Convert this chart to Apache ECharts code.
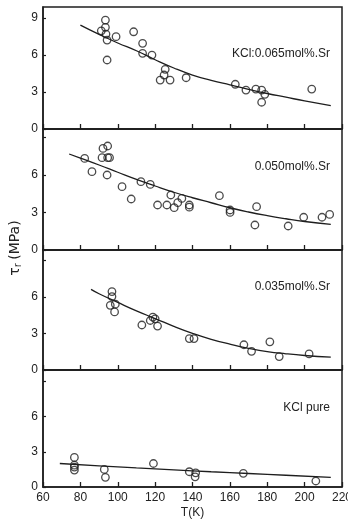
<!DOCTYPE html>
<html>
<head>
<meta charset="utf-8">
<style>html,body{margin:0;padding:0;background:#fff;}#c{width:348px;height:521px;}</style>
<script src="https://cdn.jsdelivr.net/npm/echarts@6/dist/echarts.min.js"></script>
</head>
<body>
<div id="c"></div>
<script>
// ---- data ----
var xTicks = [60, 80, 100, 120, 140, 160, 180, 200, 220];
var yTicks = [0, 3, 6, 9];
var panelLabels = ['KCl:0.065mol%.Sr', '0.050mol%.Sr', '0.035mol%.Sr', 'KCl pure'];

var pts1 = [[93.4,8.84],[93.4,8.25],[91.2,7.97],[93.7,7.70],[94.3,7.22],[99.1,7.49],[94.3,5.60],
  [108.5,7.89],[113.3,6.95],[113.3,6.14],[118.3,6.00],[125.4,4.84],[124.8,4.38],[122.7,3.97],
  [128.0,3.97],[136.6,4.16],[162.9,3.63],[168.6,3.16],[173.9,3.24],[177.0,3.16],[178.7,2.81],
  [177.0,2.17],[203.8,3.24]];
var curveT1 = [80, 90, 100, 110, 120, 130, 140, 150, 160, 170, 180, 190, 200, 214];
var curveV1 = [8.43, 7.68, 6.98, 6.35, 5.62, 4.95, 4.38, 3.95, 3.58, 3.22, 2.88, 2.58, 2.28, 1.89];

var pts2 = [[82.3,7.33],[86.2,6.27],[91.6,7.39],[92.1,8.13],[94.6,8.32],[94.6,7.39],[95.6,7.39],
  [94.3,6.00],[102.3,5.07],[107.2,4.08],[112.4,5.47],[117.4,5.25],[121.3,3.60],[126.3,3.60],
  [128.4,4.40],[130.2,3.39],[132.1,3.79],[134.3,4.13],[138.3,3.60],[138.3,3.43],[154.4,4.35],
  [160.1,3.20],[160.1,3.01],[174.3,3.47],[173.4,2.00],[191.2,1.92],[199.5,2.62],[209.3,2.62],
  [213.4,2.85]];
var curveT2 = [74, 80, 90, 100, 110, 120, 130, 140, 150, 160, 170, 180, 190, 200, 214];
var curveV2 = [7.68, 7.35, 6.80, 6.22, 5.65, 5.12, 4.62, 4.18, 3.78, 3.38, 3.04, 2.75, 2.50, 2.28, 2.05];

var pts3 = [[96.9,6.43],[96.9,6.02],[96.0,5.30],[98.7,5.40],[98.3,4.76],[112.9,3.69],[117.4,4.06],
  [118.8,4.33],[120.0,4.20],[121.3,3.60],[138.3,2.58],[140.8,2.58],[167.5,2.07],[171.6,1.53],
  [181.4,2.31],[186.4,1.10],[202.4,1.32]];
var curveT3 = [85.7, 90, 100, 110, 120, 130, 140, 150, 160, 170, 180, 190, 200, 214];
var curveV3 = [6.61, 6.25, 5.54, 4.85, 4.22, 3.58, 3.01, 2.52, 2.12, 1.78, 1.51, 1.33, 1.19, 1.05];

var pts4 = [[76.8,2.52],[76.8,1.86],[76.8,1.70],[76.8,1.44],[92.8,1.50],[93.4,0.82],[119.1,2.00],
  [138.3,1.30],[141.7,1.21],[141.4,0.87],[167.2,1.16],[206.0,0.51]];
var curveT4 = [69, 90, 110, 130, 150, 170, 190, 214];
var curveV4 = [2.00, 1.80, 1.62, 1.46, 1.30, 1.15, 1.00, 0.82];

// ---- layout ----
var grids = [
  {top: 7, height: 122, ymax: 9.9},
  {top: 129, height: 121, ymax: 9.68},
  {top: 250, height: 120, ymax: 9.84},
  {top: 370, height: 117, ymax: 9.96}
];
var labelY = [55, 168, 288, 409];
var allPts = [pts1, pts2, pts3, pts4];
var curves = [[curveT1, curveV1], [curveT2, curveV2], [curveT3, curveV3], [curveT4, curveV4]];

var ink = '#1e1e1e';
var option = {
  animation: false,
  backgroundColor: '#fff',
  grid: [], xAxis: [], yAxis: [], series: [], graphic: []
};

grids.forEach(function (g, i) {
  option.grid.push({left: 43, right: 6, top: g.top, height: g.height, outerBoundsMode: 'none',
    containLabel: false,
    show: true, borderColor: ink, borderWidth: 1.5, backgroundColor: 'transparent'});
  var last = i === 3;
  option.xAxis.push({
    type: 'value', gridIndex: i, min: xTicks[0], max: xTicks[xTicks.length - 1], interval: 20,
    axisLine: {show: true, lineStyle: {color: ink, width: 1.5}},
    axisTick: {show: true, inside: true, length: 5, lineStyle: {color: ink, width: 1.3}},
    splitLine: {show: false},
    axisLabel: {show: last, color: '#222', fontSize: 12, margin: 5, fontFamily: 'Liberation Sans',
      showMinLabel: true, showMaxLabel: true},
    name: last ? 'T(K)' : '', nameLocation: 'middle', nameGap: 20,
    nameTextStyle: {color: '#222', fontSize: 12, fontFamily: 'Liberation Sans'}
  });
  option.yAxis.push({
    type: 'value', gridIndex: i, min: 0, max: g.ymax, interval: 3,
    axisLine: {show: true, lineStyle: {color: ink, width: 1.5}},
    axisTick: {show: true, inside: true, length: 3, lineStyle: {color: ink, width: 1.2}},
    splitLine: {show: false},
    axisLabel: {color: '#222', fontSize: 12, margin: 5, fontFamily: 'Liberation Sans', showMaxLabel: false,
      formatter: function (v) {
        if (yTicks.indexOf(v) < 0) return '';
        if (v === 9 && i !== 0) return '';
        return String(v);
      }}
  });
  var cT = curves[i][0], cV = curves[i][1];
  option.series.push({
    type: 'line', xAxisIndex: i, yAxisIndex: i, smooth: true, showSymbol: false, silent: true,
    lineStyle: {color: ink, width: 1.3},
    data: cT.map(function (t, k) { return [t, cV[k]]; })
  });
  option.series.push({
    type: 'scatter', xAxisIndex: i, yAxisIndex: i, symbol: 'circle', symbolSize: 7.5,
    itemStyle: {color: 'rgba(255,255,255,0)', borderColor: ink, borderWidth: 1.3},
    data: allPts[i]
  });
  option.graphic.push({
    type: 'text', right: 18, top: labelY[i] - 7,
    style: {text: panelLabels[i], fill: '#222', fontSize: 12, fontFamily: 'Liberation Sans'}
  });
});

option.graphic.push({
  type: 'text', x: 15, y: 248, rotation: Math.PI / 2,
  style: {
    text: '{t|τ}{s|r} {t|(MPa)}', align: 'center', verticalAlign: 'middle',
    rich: {
      t: {fontSize: 14, fill: '#222', fontFamily: 'DejaVu Sans'},
      s: {fontSize: 10, fill: '#222', fontFamily: 'DejaVu Sans', padding: [6, 0, 0, 0]}
    }
  }
});

var chart = echarts.init(document.getElementById('c'), null, {renderer: 'canvas'});
chart.setOption(option);
</script>
</body>
</html>
